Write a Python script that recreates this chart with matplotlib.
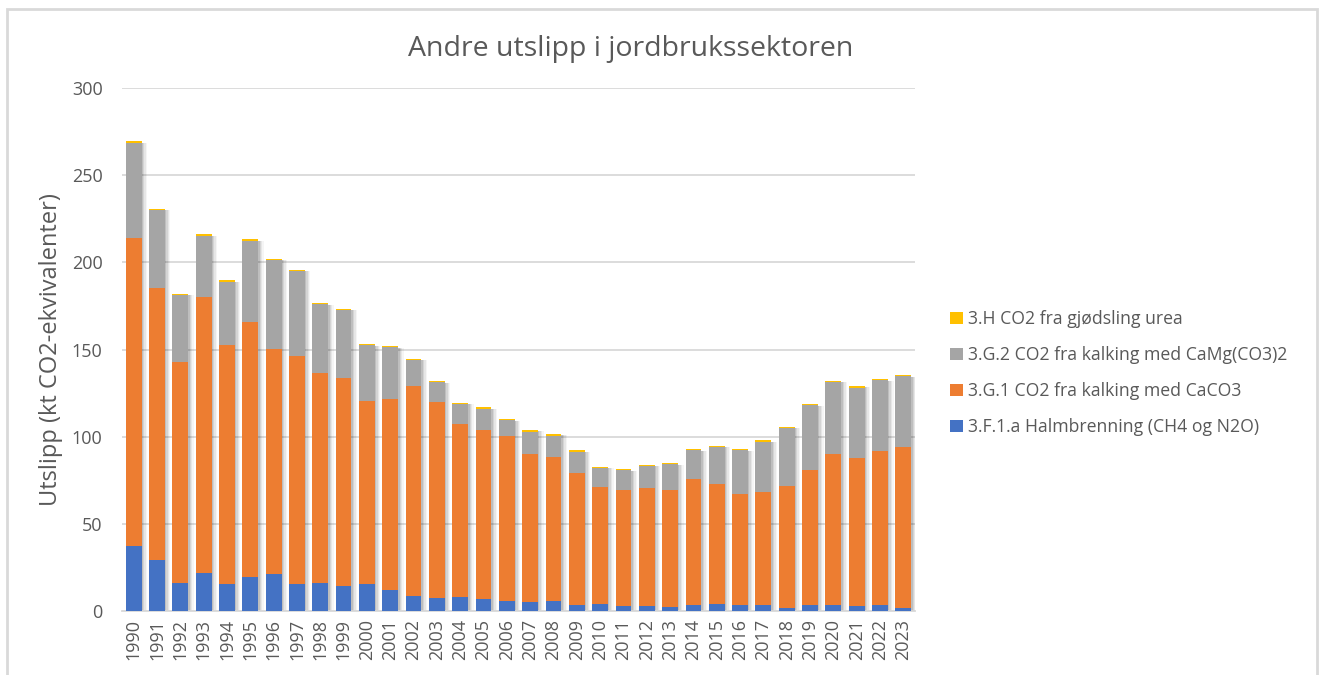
import matplotlib.pyplot as plt
import numpy as np
from matplotlib.patches import Rectangle

plt.rcParams['font.family'] = ['Open Sans', 'DejaVu Sans']

years = [str(y) for y in range(1990, 2024)]

# 3.F.1.a Halmbrenning (CH4 og N2O)
halm = [37.5, 29.5, 16.0, 22.0, 15.5, 19.5, 21.5, 15.5, 16.0, 14.5,
        15.5, 12.0, 8.5, 7.5, 8.0, 7.0, 5.5, 5.0, 5.5, 3.5,
        4.0, 3.0, 3.0, 2.3, 3.5, 4.0, 3.5, 3.5, 1.8, 3.5,
        3.5, 3.0, 3.5, 1.8]
# 3.G.1 CO2 fra kalking med CaCO3
caco3 = [176.5, 155.9, 126.7, 158.3, 137.2, 146.4, 128.7, 130.5, 120.6, 119.4,
         104.8, 109.8, 120.8, 112.2, 99.5, 97.0, 94.7, 85.0, 83.0, 75.8,
         67.0, 66.7, 67.3, 67.4, 72.0, 68.6, 63.5, 64.7, 69.7, 77.5,
         86.7, 85.0, 88.3, 92.2]
# 3.G.2 CO2 fra kalking med CaMg(CO3)2
camg = [54.2, 44.5, 38.4, 35.1, 36.2, 46.4, 51.3, 48.8, 39.7, 38.7,
        32.2, 29.4, 14.7, 11.7, 11.0, 11.9, 9.3, 12.7, 12.1, 11.7,
        11.2, 11.1, 12.9, 14.4, 16.6, 21.4, 25.2, 29.0, 33.6, 37.1,
        41.3, 40.2, 40.5, 40.6]
# 3.H CO2 fra gjødsling urea
urea = [1.2, 0.9, 0.9, 0.9, 0.9, 0.9, 0.6, 1.0, 0.5, 0.8,
        0.8, 0.9, 0.8, 0.6, 1.0, 0.9, 0.7, 1.3, 1.1, 1.3,
        0.6, 0.6, 0.7, 0.8, 0.8, 0.8, 0.7, 0.7, 0.6, 0.7,
        0.7, 1.1, 0.8, 0.8]

labels = ['3.F.1.a Halmbrenning (CH4 og N2O)',
          '3.G.1 CO2 fra kalking med CaCO3',
          '3.G.2 CO2 fra kalking med CaMg(CO3)2',
          '3.H CO2 fra gjødsling urea']
colors = ['#4472C4', '#ED7D31', '#A5A5A5', '#FFC000']
txt = '#595959'

fig = plt.figure(figsize=(13.2, 6.75), dpi=100)
ax = fig.add_axes([0.0924, 0.0948, 0.6008, 0.7748])

x = np.arange(len(years))
w = 0.68
series = [np.array(halm), np.array(caco3), np.array(camg), np.array(urea)]
total = sum(series)

# soft shadow behind each bar
for dx, a in [(0.06, 0.10), (0.12, 0.08), (0.18, 0.06), (0.24, 0.04)]:
    ax.bar(x + dx, total - 1.0, w, color='black', alpha=a, zorder=2, linewidth=0)

bottom = np.zeros(len(years))
handles = []
for vals, lab, col in zip(series, labels, colors):
    h = ax.bar(x, vals, w, bottom=bottom, color=col, label=lab, zorder=3, linewidth=0)
    handles.append(h)
    bottom += vals

ax.set_ylim(0, 300)
ax.set_xlim(-0.5, len(years) - 0.5)
ax.set_yticks(range(0, 301, 50))
ax.set_xticks(x)
ax.set_xticklabels(years, rotation=90)
ax.grid(axis='y', color='#d9d9d9', linewidth=1.3, zorder=0)
ax.set_axisbelow(True)
for s in ['top', 'right', 'left']:
    ax.spines[s].set_visible(False)
ax.spines['bottom'].set_color('#d9d9d9')
ax.spines['bottom'].set_linewidth(1.3)
ax.tick_params(axis='both', length=0, colors=txt, labelsize=13)
ax.tick_params(axis='y', pad=14)
ax.tick_params(axis='x', pad=6)

ax.set_ylabel('Utslipp (kt CO2-ekvivalenter)', fontsize=17, color=txt, labelpad=6)
fig.text(0.478, 0.928, 'Andre utslipp i jordbrukssektoren', fontsize=20.5, color=txt,
         ha='center', va='center')

leg = fig.legend(handles[::-1], labels[::-1], loc='center left',
                 bbox_to_anchor=(0.708, 0.447), frameon=False, fontsize=12.7,
                 handlelength=0.7, handleheight=0.7, handletextpad=0.3,
                 labelspacing=1.02)
for t in leg.get_texts():
    t.set_color(txt)

fig.patches.append(Rectangle((7 / 1320, -0.01), 1310 / 1320, 0.997, transform=fig.transFigure,
                             fill=False, edgecolor='#d9d9d9', linewidth=2))

fig.savefig('out.png', dpi=100)
